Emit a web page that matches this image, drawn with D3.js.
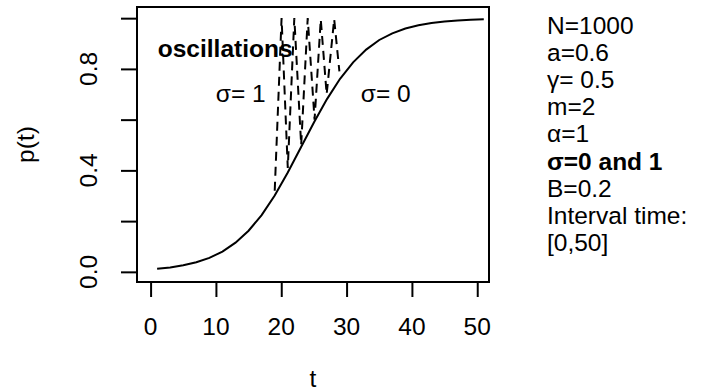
<!DOCTYPE html>
<html>
<head>
<meta charset="utf-8">
<script src="https://cdn.jsdelivr.net/npm/d3@7"></script>
<style>
  body { margin: 0; background: #fff; }
  text { font-family: "Liberation Sans", Arial, sans-serif; fill: #000; }
</style>
</head>
<body>
<div id="chart"></div>
<script>
// sigma = 0 (deterministic curve)
const tSolid = [1, 3, 5, 7, 9, 11, 13, 15, 17, 19, 21, 23, 25, 27, 29, 31, 33, 35, 37, 39, 41, 43, 45, 47, 49, 51];
const pSolid = [0.012, 0.017, 0.026, 0.038, 0.055, 0.080, 0.115, 0.162, 0.224, 0.301, 0.392, 0.490, 0.589, 0.681, 0.761, 0.826, 0.876, 0.914, 0.940, 0.959, 0.972, 0.981, 0.987, 0.991, 0.994, 0.996];

// sigma = 1 (oscillating dashed path)
const tDashed = [19.0, 20.05, 21.0, 22.0, 23.05, 24.05, 25.1, 26.05, 26.95, 28.1, 28.9];
const pDashed = [0.32, 1.0, 0.41, 1.0, 0.50, 1.0, 0.60, 0.995, 0.70, 0.996, 0.79];

const xTicks = [0, 10, 20, 30, 40, 50];
const yTicks = [0, 0.2, 0.4, 0.6, 0.8, 1.0];
const yLabels = ["0.0", "", "0.4", "", "0.8", ""];

const legendLines = ["N=1000", "a=0.6", "γ= 0.5", "m=2", "α=1", "σ=0 and 1", "B=0.2", "Interval time:", "[0,50]"];
const legendBold = [false, false, false, false, false, true, false, false, false];

const width = 704, height = 392;
const margin = { top: 7, right: 215, bottom: 110, left: 137 };
const fs = 24.5;

const svg = d3.select('#chart')
    .append('svg')
    .attr('width', width)
    .attr('height', height);

const xScale = d3.scaleLinear()
    .domain([-2.08, 51.8])
    .range([margin.left, width - margin.right]);

const yScale = d3.scaleLinear()
    .domain([-0.04, 1.044])
    .range([height - margin.bottom, margin.top]);

const plotBottom = height - margin.bottom;

// box
svg.append('rect')
    .attr('x', margin.left)
    .attr('y', margin.top)
    .attr('width', width - margin.right - margin.left)
    .attr('height', plotBottom - margin.top)
    .attr('fill', 'none')
    .attr('stroke', '#000')
    .attr('stroke-width', 2);

// axes (ticks only, labels drawn separately)
svg.append('g')
    .attr('transform', `translate(0, ${plotBottom})`)
    .call(d3.axisBottom(xScale).tickValues(xTicks).tickSize(15).tickFormat(''));
svg.append('g')
    .attr('transform', `translate(${margin.left}, 0)`)
    .call(d3.axisLeft(yScale).tickValues(yTicks).tickSize(16).tickFormat(''));
svg.selectAll('.domain').remove();
svg.selectAll('.tick line').attr('stroke', '#000').attr('stroke-width', 2);

svg.append('g').selectAll('text')
    .data(xTicks)
    .join('text')
    .attr('x', d => xScale(d))
    .attr('y', plotBottom + 53)
    .attr('text-anchor', 'middle')
    .attr('font-size', fs)
    .text(d => d);

svg.append('g').selectAll('text')
    .data(yTicks)
    .join('text')
    .attr('transform', d => `translate(${margin.left - 40}, ${yScale(d)}) rotate(-90)`)
    .attr('text-anchor', 'middle')
    .attr('font-size', fs)
    .text((d, i) => yLabels[i]);

// axis titles
svg.append('text')
    .attr('x', (margin.left + width - margin.right) / 2)
    .attr('y', 387)
    .attr('text-anchor', 'middle')
    .attr('font-size', fs)
    .text('t');

svg.append('text')
    .attr('transform', `translate(34, ${(margin.top + plotBottom) / 2}) rotate(-90)`)
    .attr('text-anchor', 'middle')
    .attr('font-size', fs)
    .text('p(t)');

// curves
const line = d3.line()
    .x(d => xScale(d[0]))
    .y(d => yScale(d[1]));

svg.append('path')
    .datum(tSolid.map((t, i) => [t, pSolid[i]]))
    .attr('fill', 'none')
    .attr('stroke', '#000')
    .attr('stroke-width', 2)
    .attr('d', line);

svg.append('path')
    .datum(tDashed.map((t, i) => [t, pDashed[i]]))
    .attr('fill', 'none')
    .attr('stroke', '#000')
    .attr('stroke-width', 2)
    .attr('stroke-dasharray', '9,6')
    .attr('d', line);

// annotations inside the plot
svg.append('text')
    .attr('x', xScale(1.1))
    .attr('y', yScale(0.848))
    .attr('font-size', fs)
    .attr('font-weight', 'bold')
    .text('oscillations');

svg.append('text')
    .attr('x', xScale(13.8))
    .attr('y', yScale(0.67))
    .attr('text-anchor', 'middle')
    .attr('font-size', fs)
    .text('σ= 1');

svg.append('text')
    .attr('x', xScale(36.0))
    .attr('y', yScale(0.67))
    .attr('text-anchor', 'middle')
    .attr('font-size', fs)
    .text('σ= 0');

// parameter list in the right margin
svg.append('g').selectAll('text')
    .data(legendLines)
    .join('text')
    .attr('x', 547)
    .attr('y', (d, i) => 33.5 + i * 27.2)
    .attr('font-size', fs)
    .attr('font-weight', (d, i) => legendBold[i] ? 'bold' : 'normal')
    .text(d => d);
</script>
</body>
</html>
